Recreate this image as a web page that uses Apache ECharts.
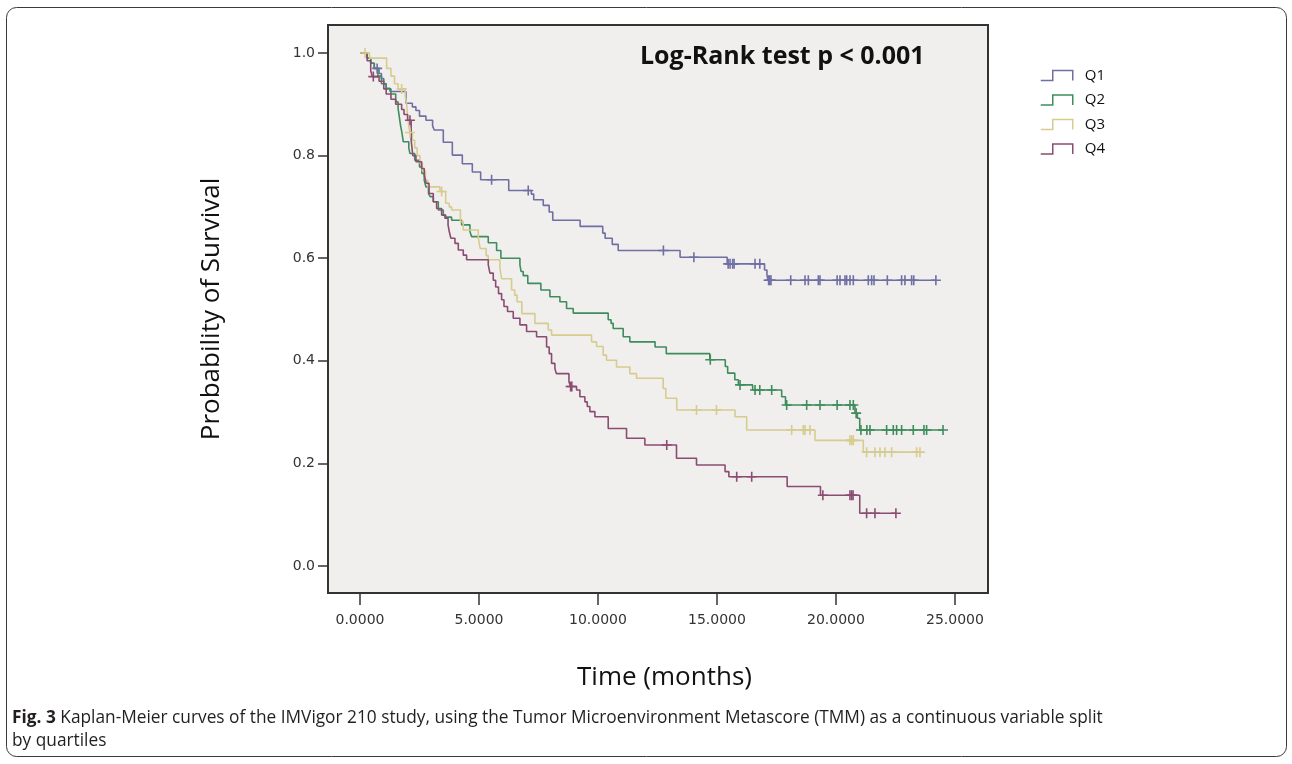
<!DOCTYPE html>
<html><head><meta charset="utf-8">
<script src="https://cdn.jsdelivr.net/npm/echarts@6/dist/echarts.min.js"></script>
<style>html,body{margin:0;padding:0;background:#fff}#c{width:1292px;height:764px}</style>
</head><body><div id="c"></div>
<script>
const groups = ['Q1', 'Q2', 'Q3', 'Q4'];
const xTicks = [0, 5, 10, 15, 20, 25];
const yTicks = [0, 0.2, 0.4, 0.6, 0.8, 1.0];

// Kaplan-Meier steps: [time (months), survival after event]
const q1Steps = [[0,1.0],[0.3,0.99],[0.45,0.98],[0.6,0.97],[0.8,0.96],[0.9,0.95],[1.0,0.94],[1.1,0.931],[1.26,0.925],[1.93,0.902],[2.2,0.895],[2.35,0.888],[2.5,0.877],[2.77,0.869],[3.05,0.858],[3.12,0.85],[3.5,0.826],[3.88,0.801],[4.3,0.784],[4.72,0.768],[5.07,0.753],[6.25,0.732],[7.2,0.725],[7.3,0.714],[7.7,0.703],[7.95,0.69],[8.1,0.674],[9.25,0.662],[10.2,0.649],[10.3,0.639],[10.6,0.627],[10.85,0.615],[13.45,0.602],[15.43,0.589],[17.0,0.577],[17.1,0.567],[17.15,0.557]];
const q1Censored = [0.72,5.53,7.07,12.75,14.03,15.47,15.55,15.66,15.72,16.6,16.8,17.17,17.22,17.27,18.1,18.7,18.84,19.26,19.33,20.05,20.17,20.38,20.45,20.59,20.73,21.36,21.5,21.6,22.16,22.76,22.9,23.18,23.27,24.2];

const q2Steps = [[0,1.0],[0.3,0.99],[0.45,0.98],[0.6,0.97],[0.75,0.955],[0.9,0.94],[1.1,0.93],[1.3,0.92],[1.5,0.905],[1.6,0.892],[1.65,0.876],[1.7,0.86],[1.76,0.845],[1.82,0.827],[2.05,0.815],[2.1,0.804],[2.3,0.791],[2.5,0.778],[2.6,0.765],[2.7,0.752],[2.77,0.739],[2.88,0.726],[2.95,0.72],[3.08,0.71],[3.29,0.694],[3.5,0.684],[3.6,0.68],[3.85,0.674],[4.27,0.665],[4.62,0.652],[4.69,0.642],[5.39,0.63],[5.74,0.615],[5.92,0.6],[6.72,0.587],[6.77,0.574],[6.86,0.566],[7.05,0.551],[7.6,0.538],[7.98,0.525],[8.4,0.515],[8.68,0.502],[8.96,0.493],[10.43,0.48],[10.55,0.473],[10.64,0.463],[11.06,0.447],[11.34,0.437],[12.4,0.427],[12.87,0.414],[14.7,0.402],[15.35,0.389],[15.45,0.376],[15.75,0.363],[15.9,0.353],[16.5,0.343],[17.72,0.33],[17.88,0.314],[20.8,0.298],[20.9,0.288],[21.0,0.265]];
const q2Censored = [14.72,15.97,16.6,16.8,17.3,17.93,18.77,19.33,20.05,20.59,20.73,20.85,21.05,21.3,21.43,22.13,22.41,22.55,22.76,23.25,23.7,23.81,24.5];

const q3Steps = [[0,1.0],[0.4,0.99],[1.12,0.97],[1.3,0.955],[1.45,0.94],[1.6,0.93],[1.9,0.915],[1.96,0.9],[2.0,0.875],[2.06,0.855],[2.1,0.845],[2.2,0.83],[2.3,0.815],[2.4,0.8],[2.52,0.785],[2.62,0.77],[2.75,0.752],[2.85,0.739],[3.36,0.73],[3.6,0.707],[3.75,0.7],[3.85,0.694],[4.22,0.671],[4.34,0.655],[4.97,0.639],[5.05,0.619],[5.3,0.605],[5.39,0.597],[5.88,0.58],[5.95,0.56],[6.37,0.538],[6.5,0.528],[6.6,0.515],[6.8,0.492],[7.35,0.473],[7.91,0.46],[8.05,0.45],[9.73,0.437],[9.94,0.428],[10.22,0.411],[10.36,0.401],[10.78,0.388],[11.34,0.375],[11.62,0.366],[12.74,0.346],[12.85,0.327],[13.31,0.304],[15.76,0.291],[16.25,0.265],[19.12,0.245],[21.15,0.222]];
const q3Censored = [0.21,1.75,2.1,3.43,14.14,14.98,18.14,18.63,18.7,18.91,20.59,20.66,20.73,21.29,21.64,21.85,22.06,22.34,23.39,23.53];

const q4Steps = [[0,1.0],[0.3,0.985],[0.45,0.965],[0.52,0.954],[0.8,0.945],[1.0,0.93],[1.1,0.92],[1.3,0.91],[1.5,0.9],[1.75,0.89],[1.85,0.88],[2.0,0.869],[2.15,0.83],[2.22,0.8],[2.35,0.788],[2.59,0.775],[2.7,0.762],[2.78,0.746],[2.9,0.726],[3.08,0.71],[3.22,0.697],[3.43,0.684],[3.57,0.678],[3.7,0.665],[3.75,0.652],[3.82,0.639],[3.99,0.629],[4.13,0.616],[4.34,0.606],[4.48,0.597],[5.39,0.587],[5.46,0.571],[5.6,0.557],[5.7,0.544],[5.82,0.531],[5.95,0.519],[6.05,0.506],[6.2,0.496],[6.44,0.483],[6.72,0.47],[7.0,0.457],[7.42,0.447],[7.84,0.427],[7.95,0.414],[8.05,0.395],[8.19,0.385],[8.25,0.375],[8.78,0.359],[8.85,0.35],[9.1,0.343],[9.24,0.33],[9.45,0.32],[9.55,0.311],[9.66,0.301],[9.87,0.291],[10.43,0.268],[11.2,0.249],[11.97,0.236],[13.3,0.21],[14.14,0.197],[15.34,0.184],[15.5,0.174],[17.95,0.155],[19.35,0.138],[21.0,0.103]];
const q4Censored = [0.56,2.1,8.85,8.9,12.89,15.83,16.46,19.45,20.59,20.66,20.72,21.29,21.64,22.52];

const colors = ['#6f6fa3', '#3f8c5c', '#d6cc8e', '#8b4c72'];
const stepsList = [q1Steps, q2Steps, q3Steps, q4Steps];
const censList = [q1Censored, q2Censored, q3Censored, q4Censored];

function levelAt(steps, t) {
  let v = steps[0][1];
  for (const s of steps) { if (s[0] <= t) v = s[1]; else break; }
  return v;
}

const plusPath = 'path://M4.2,0H5.8V4.2H10V5.8H5.8V10H4.2V5.8H0V4.2H4.2Z';
const series = [];
groups.forEach((g, i) => {
  const steps = stepsList[i], cens = censList[i];
  const end = cens[cens.length - 1];
  series.push({
    name: g, type: 'line', step: 'end', showSymbol: false, symbol: 'none',
    data: steps.concat([[end, levelAt(steps, end)]]),
    lineStyle: { color: colors[i], width: 1.6 },
    itemStyle: { color: colors[i], borderColor: colors[i] },
    silent: true, z: 2
  });
});
groups.forEach((g, i) => {
  const steps = stepsList[i];
  series.push({
    name: g + ' censored', type: 'scatter', symbol: plusPath, symbolSize: [10, 10],
    data: censList[i].map(t => [t, levelAt(steps, t)]),
    itemStyle: { color: colors[i], opacity: 1 }, silent: true, z: 3
  });
});

const chart = echarts.init(document.getElementById('c'), null, { renderer: 'canvas' });
chart.setOption({
  animation: false,
  backgroundColor: '#ffffff',
  grid: { left: 328, top: 25, width: 660, height: 568, show: true, backgroundColor: '#f0efee', borderColor: '#333333', borderWidth: 2 },
  xAxis: {
    type: 'value', min: -1.345, max: 26.39,
    splitLine: { show: false }, axisLine: { show: false, onZero: false },
    axisTick: { show: true, length: 12, customValues: xTicks, lineStyle: { color: '#333', width: 1.5 } },
    axisLabel: { customValues: xTicks, formatter: v => v.toFixed(4), margin: 20, fontFamily: 'DejaVu Sans', fontSize: 14, color: '#333' },
    name: 'Time (months)', nameLocation: 'middle', nameGap: 72,
    nameTextStyle: { fontFamily: 'Open Sans', fontSize: 26, color: '#111', padding: [0, 0, 0, 13] }
  },
  yAxis: {
    type: 'value', min: -0.0526, max: 1.0546,
    splitLine: { show: false }, axisLine: { show: false, onZero: false },
    axisTick: { show: true, length: 10, customValues: yTicks, lineStyle: { color: '#333', width: 1.5 } },
    axisLabel: { customValues: yTicks, formatter: v => v.toFixed(1), margin: 13, fontFamily: 'DejaVu Sans', fontSize: 14, color: '#333' },
    name: 'Probability of Survival', nameLocation: 'middle', nameRotate: 90, nameGap: 103,
    nameTextStyle: { fontFamily: 'Open Sans', fontSize: 26, color: '#111' }
  },
  legend: {
    orient: 'vertical', left: 1040, top: 68, padding: 0, itemWidth: 32, itemHeight: 10, itemGap: 9.5,
    icon: 'path://M0,10L12,10L12,0L32,0L32,10',
    textStyle: { fontFamily: 'Open Sans', fontSize: 15, color: '#111', padding: [0, 0, 0, 7] },
    selectedMode: false,
    data: groups.map((g, i) => ({ name: g, itemStyle: { color: 'transparent', borderColor: colors[i], borderWidth: 1.5 } }))
  },
  title: [
    { text: 'Log-Rank test p < 0.001', left: 640, top: 42, padding: 0,
      textStyle: { fontFamily: 'Open Sans', fontWeight: 'bold', fontSize: 25, lineHeight: 30, color: '#111' } },
    { text: '{b|Fig. 3} Kaplan-Meier curves of the IMVigor 210 study, using the Tumor Microenvironment Metascore (TMM) as a continuous variable split\nby quartiles',
      left: 12, top: 707, padding: 0,
      textStyle: { fontFamily: 'Open Sans', fontSize: 17.3, fontWeight: 'normal', lineHeight: 23, color: '#231f20',
        rich: { b: { fontFamily: 'Open Sans', fontWeight: 'bold', fontSize: 17.3, lineHeight: 23, color: '#231f20' } } } }
  ],
  graphic: [
    { type: 'rect', silent: true, z: -10, shape: { x: 6.5, y: 7.5, width: 1280, height: 749, r: 10 },
      style: { fill: 'none', stroke: '#3a3a3a', lineWidth: 1 } }
  ],
  series: series
});
</script>
</body></html>
